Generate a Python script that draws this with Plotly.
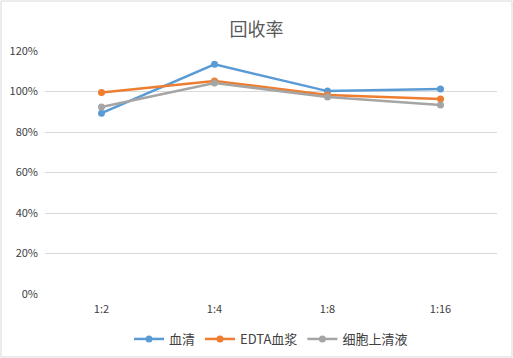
import plotly.graph_objects as go

categories = ["1:2", "1:4", "1:8", "1:16"]
serum = [0.893, 1.134, 1.002, 1.012]
edta_plasma = [0.995, 1.052, 0.983, 0.963]
supernatant = [0.923, 1.042, 0.973, 0.933]
series_names = ["血清", "EDTA血浆", "细胞上清液"]
colors = ["#5B9BD5", "#ED7D31", "#A5A5A5"]

W, H = 513, 358
ml, mr, mt, mb = 45, 16, 51, 64
pw, ph = W - ml - mr, H - mt - mb

fig = go.Figure()
for name, vals, c in zip(series_names, [serum, edta_plasma, supernatant], colors):
    fig.add_trace(go.Scatter(
        x=categories, y=vals, name=name, mode="lines+markers",
        line=dict(color=c, width=2.5), marker=dict(size=7, color=c),
    ))

font_family = "Noto Sans CJK SC, DejaVu Sans, sans-serif"
fig.update_layout(
    width=W, height=H,
    margin=dict(l=ml, r=mr, t=mt, b=mb, autoexpand=False),
    paper_bgcolor="white", plot_bgcolor="white",
    title=dict(text="回收率", x=0.5, xanchor="center", y=1 - 30 / H, yanchor="middle",
               font=dict(size=18, color="#595959", family=font_family)),
    xaxis=dict(showgrid=False, showline=False, ticks="", zeroline=False, automargin=False,
               tickfont=dict(size=11, color="#404040", family=font_family),
               range=[-0.5, 3.5], ticklabelstandoff=7),
    yaxis=dict(range=[0, 1.2], dtick=0.2, tickformat=".0%", showgrid=True, automargin=False,
               gridcolor="#D9D9D9", gridwidth=1, zeroline=False, showline=False,
               tickfont=dict(size=11, color="#404040", family=font_family),
               ticklabelstandoff=6),
    showlegend=True,
    legend=dict(orientation="h", x=0.5, xanchor="center", y=-(339 - 294) / ph, yanchor="middle",
                font=dict(size=13, color="#404040", family=font_family),
                itemwidth=30, tracegroupgap=0),
    shapes=[dict(type="rect", xref="paper", yref="paper",
                 x0=-(ml - 1) / pw, x1=1 + (mr - 1) / pw,
                 y0=-(mb - 1) / ph, y1=1 + (mt - 1) / ph,
                 line=dict(color="#D9D9D9", width=1), layer="below")],
)
fig.write_html("out.html", config={"displayModeBar": False},
               post_script="document.body.style.margin='0';document.body.style.padding='0';")
